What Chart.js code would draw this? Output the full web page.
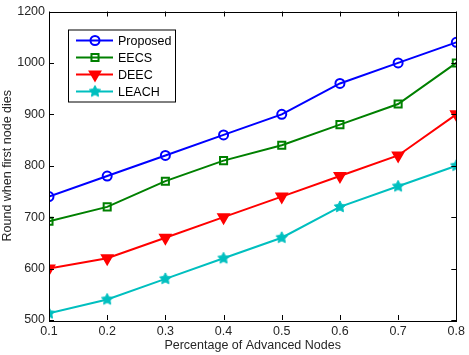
<!DOCTYPE html>
<html>
<head>
<meta charset="utf-8">
<style>
  html, body { margin: 0; padding: 0; background: #fff; }
  #wrap { width: 469px; height: 355px; }
</style>
<script src="https://cdn.jsdelivr.net/npm/chart.js@4/dist/chart.umd.min.js"></script>
</head>
<body>
<div id="wrap"><canvas id="fndChart" width="469" height="355"></canvas></div>
<script>
// values
var xValues = [0.1, 0.2, 0.3, 0.4, 0.5, 0.6, 0.7, 0.8];
var proposed = [740, 780, 820, 860, 900, 960, 1000, 1040];
var eecs = [692, 720, 770, 810, 840, 880, 920, 1000];
var deec = [600, 620, 660, 700, 740, 780, 820, 900];
var leach = [513, 540, 580, 620, 660, 720, 760, 800];
// the top tick of the original is printed as 1200
var yTickLabels = ['500', '600', '700', '800', '900', '1000', '1200'];
var xTickLabels = ['0.1', '0.2', '0.3', '0.4', '0.5', '0.6', '0.7', '0.8'];

const FONT = '"Liberation Sans", Arial, Helvetica, sans-serif';

// filled star marker, like matlab's pentagram
function makeStar(color, r) {
    var c = document.createElement('canvas');
    var s = Math.ceil(r * 2 + 2);
    c.width = s; c.height = s;
    var g = c.getContext('2d');
    g.fillStyle = color;
    g.strokeStyle = color;
    g.lineWidth = 1;
    g.beginPath();
    for (var k = 0; k < 10; k++) {
        var rad = k % 2 === 0 ? r : r * 0.5;
        var ang = -Math.PI / 2 + k * Math.PI / 5;
        var px = s / 2 + rad * Math.cos(ang), py = s / 2 + rad * Math.sin(ang);
        if (k === 0) g.moveTo(px, py); else g.lineTo(px, py);
    }
    g.closePath();
    g.fill();
    g.stroke();
    return c;
}

function pts(arr) {
    return arr.map(function (v, i) { return { x: xValues[i], y: v }; });
}

function series(label, arr, color, style, radius, filled, rot) {
    return {
        label: label,
        data: pts(arr),
        borderColor: color,
        backgroundColor: color,
        borderWidth: 2,
        pointStyle: style,
        pointRadius: radius,
        pointRotation: rot || 0,
        pointBorderWidth: 2,
        pointBorderColor: color,
        pointBackgroundColor: filled ? color : 'rgba(0,0,0,0)',
        tension: 0
    };
}

const data = {
    datasets: [
        series('Proposed', proposed, '#0000ff', 'circle', 4.5, false),
        series('EECS', eecs, '#008000', 'rect', 5, false),
        series('DEEC', deec, '#ff0000', 'triangle', 6, true, 180),
        series('LEACH', leach, '#00bfbf', makeStar('#00bfbf', 6), 6, true)
    ]
};

// box with inward ticks, matlab style
const boxPlugin = {
    id: 'box',
    afterDatasetsDraw: function (chart) {
        var ctx = chart.ctx, a = chart.chartArea;
        var xs = chart.scales.x, ys = chart.scales.y;
        ctx.save();
        ctx.strokeStyle = '#000';
        ctx.lineWidth = 1;
        ctx.beginPath();
        xs.ticks.forEach(function (t) {
            var px = Math.round(xs.getPixelForValue(t.value)) + 0.5;
            ctx.moveTo(px, a.bottom); ctx.lineTo(px, a.bottom - 5);
            ctx.moveTo(px, a.top); ctx.lineTo(px, a.top + 5);
        });
        ys.ticks.forEach(function (t) {
            var py = Math.round(ys.getPixelForValue(t.value)) + 0.5;
            ctx.moveTo(a.left, py); ctx.lineTo(a.left + 5, py);
            ctx.moveTo(a.right, py); ctx.lineTo(a.right - 5, py);
        });
        ctx.stroke();
        ctx.strokeRect(Math.round(a.left) + 0.5, Math.round(a.top) + 0.5,
            Math.round(a.right - a.left), Math.round(a.bottom - a.top));
        ctx.restore();
    }
};

// legend inside the plot, top left
const insideLegend = {
    id: 'insideLegend',
    afterDraw: function (chart) {
        var ctx = chart.ctx, a = chart.chartArea;
        var bx = a.left + 19, by = a.top + 18, bw = 107, bh = 72;
        ctx.save();
        ctx.fillStyle = '#fff';
        ctx.fillRect(bx, by, bw, bh);
        ctx.strokeStyle = '#000';
        ctx.lineWidth = 1;
        ctx.strokeRect(bx + 0.5, by + 0.5, bw, bh);
        chart.data.datasets.forEach(function (ds, i) {
            var y = by + 11 + i * 17;
            ctx.strokeStyle = ds.borderColor;
            ctx.lineWidth = 2;
            ctx.beginPath();
            ctx.moveTo(bx + 8, y); ctx.lineTo(bx + 45, y);
            ctx.stroke();
            ctx.fillStyle = ds.pointBackgroundColor;
            ctx.strokeStyle = ds.pointBorderColor;
            Chart.helpers.drawPoint(ctx, {
                pointStyle: ds.pointStyle,
                radius: ds.pointRadius,
                rotation: ds.pointRotation,
                borderWidth: 2
            }, bx + 27, y);
            ctx.fillStyle = '#000';
            ctx.font = '12.5px ' + FONT;
            ctx.textBaseline = 'middle';
            ctx.textAlign = 'left';
            ctx.fillText(ds.label, bx + 50, y + 1);
        });
        ctx.restore();
    }
};

var ctx = document.getElementById('fndChart').getContext('2d');
var fndChart = new Chart(ctx, {
    type: 'line',
    data: data,
    plugins: [boxPlugin, insideLegend],
    options: {
        responsive: false,
        animation: false,
        layout: {
            padding: { top: 10, right: 9, left: 0, bottom: 0 }
        },
        plugins: {
            legend: { display: false },
            tooltip: { enabled: false }
        },
        scales: {
            x: {
                type: 'linear',
                min: 0.1,
                max: 0.8,
                grid: { display: false, drawTicks: false },
                border: { display: false },
                afterFit: function (s) { s.height = 35; },
                afterBuildTicks: function (s) {
                    s.ticks = xValues.map(function (v) { return { value: v }; });
                },
                ticks: {
                    color: '#262626',
                    font: { family: FONT, size: 12.5 },
                    padding: 4,
                    maxRotation: 0,
                    callback: function (v, i) { return xTickLabels[i]; }
                },
                title: {
                    display: true,
                    text: 'Percentage of Advanced Nodes',
                    color: '#262626',
                    font: { family: FONT, size: 12.5 },
                    padding: { top: 0, bottom: 2 }
                }
            },
            y: {
                min: 500,
                max: 1100,
                grid: { display: false, drawTicks: false },
                border: { display: false },
                afterFit: function (s) { s.width = 49; },
                ticks: {
                    stepSize: 100,
                    color: '#262626',
                    font: { family: FONT, size: 12.5 },
                    padding: 4,
                    callback: function (v, i) { return yTickLabels[i]; }
                },
                title: {
                    display: true,
                    text: 'Round when first node dies',
                    color: '#262626',
                    font: { family: FONT, size: 12.5 },
                    padding: { top: 0, bottom: 0 }
                }
            }
        }
    }
});
</script>
</body>
</html>
